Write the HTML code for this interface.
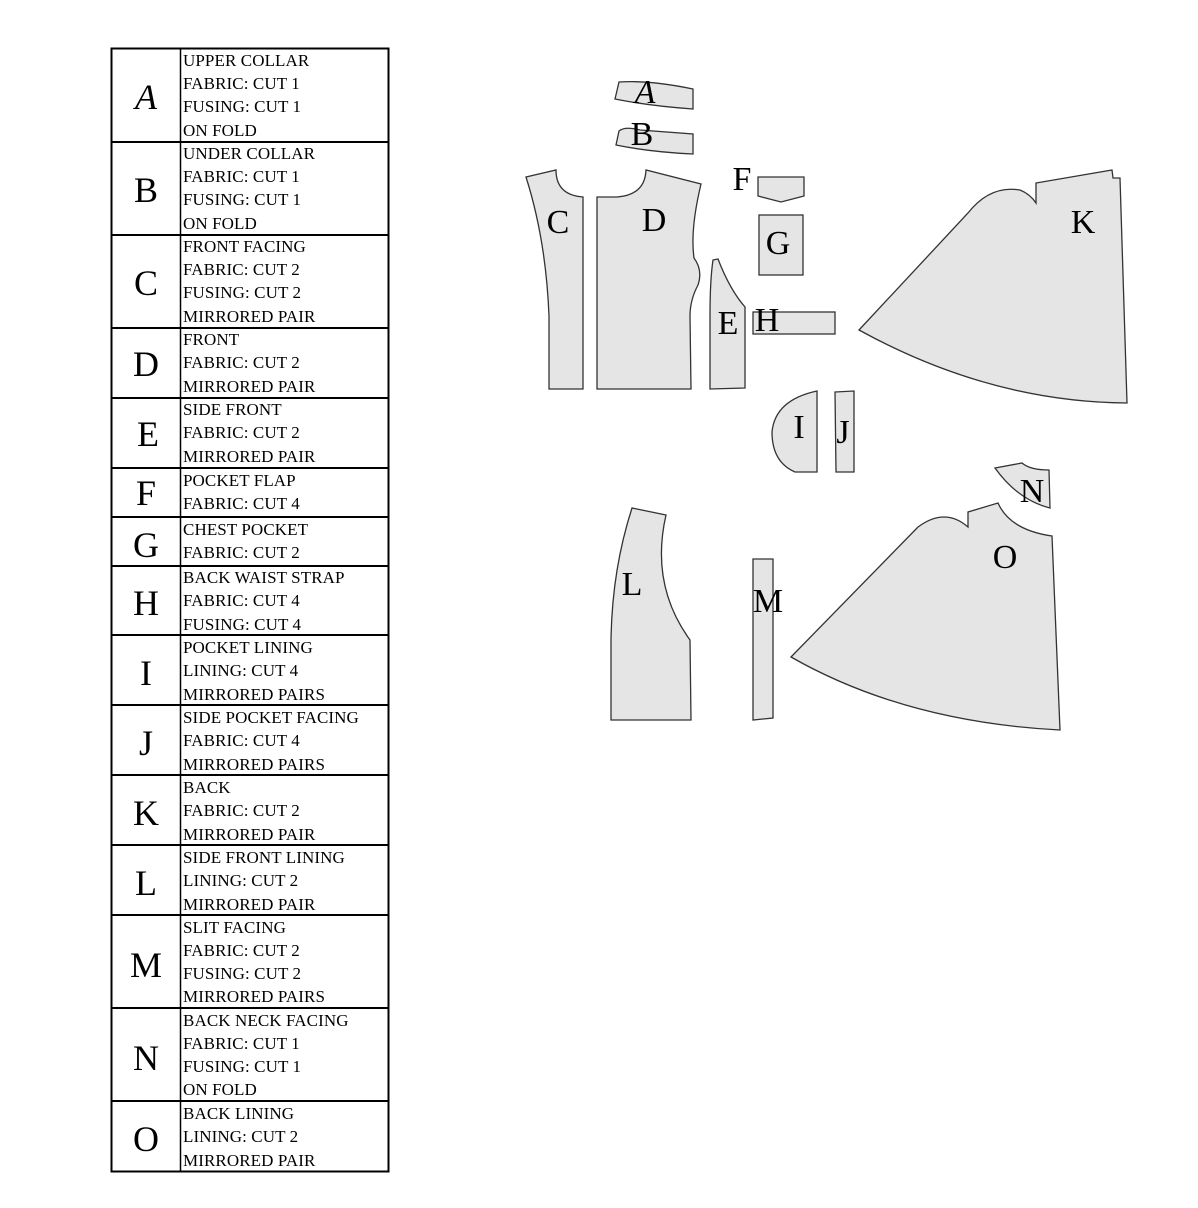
<!DOCTYPE html>
<html><head><meta charset="utf-8"><style>
html,body{margin:0;padding:0;background:#fff;}
svg{display:block;}
.t{font-family:"Liberation Serif",serif;font-size:17px;letter-spacing:0.1px;fill:#000;}
.L{font-family:"Liberation Serif",serif;font-size:36px;fill:#000;text-anchor:middle;}
.p{fill:#e5e5e5;stroke:#333;stroke-width:1.3;}
</style></head><body>
<svg width="1198" height="1208" viewBox="0 0 1198 1208" xmlns="http://www.w3.org/2000/svg">
<rect x="111.5" y="48.5" width="277" height="1123" fill="none" stroke="#000" stroke-width="2"/>
<line x1="180.5" y1="48" x2="180.5" y2="1172" stroke="#000" stroke-width="1.5"/>
<g stroke="#000" stroke-width="2">
<line x1="111" y1="142" x2="389" y2="142"/><line x1="111" y1="235" x2="389" y2="235"/>
<line x1="111" y1="328" x2="389" y2="328"/><line x1="111" y1="398" x2="389" y2="398"/>
<line x1="111" y1="468" x2="389" y2="468"/><line x1="111" y1="517" x2="389" y2="517"/>
<line x1="111" y1="566" x2="389" y2="566"/><line x1="111" y1="635" x2="389" y2="635"/>
<line x1="111" y1="705" x2="389" y2="705"/><line x1="111" y1="775" x2="389" y2="775"/>
<line x1="111" y1="845" x2="389" y2="845"/><line x1="111" y1="915" x2="389" y2="915"/>
<line x1="111" y1="1008" x2="389" y2="1008"/><line x1="111" y1="1101" x2="389" y2="1101"/>
</g>
<g class="t">
<text x="183" y="66">UPPER COLLAR</text><text x="183" y="89">FABRIC: CUT 1</text><text x="183" y="112">FUSING: CUT 1</text><text x="183" y="136">ON FOLD</text>
<text x="183" y="159">UNDER COLLAR</text><text x="183" y="182">FABRIC: CUT 1</text><text x="183" y="205">FUSING: CUT 1</text><text x="183" y="229">ON FOLD</text>
<text x="183" y="252">FRONT FACING</text><text x="183" y="275">FABRIC: CUT 2</text><text x="183" y="298">FUSING: CUT 2</text><text x="183" y="322">MIRRORED PAIR</text>
<text x="183" y="345">FRONT</text><text x="183" y="368">FABRIC: CUT 2</text><text x="183" y="392">MIRRORED PAIR</text>
<text x="183" y="415">SIDE FRONT</text><text x="183" y="438">FABRIC: CUT 2</text><text x="183" y="462">MIRRORED PAIR</text>
<text x="183" y="486">POCKET FLAP</text><text x="183" y="509">FABRIC: CUT 4</text>
<text x="183" y="535">CHEST POCKET</text><text x="183" y="558">FABRIC: CUT 2</text>
<text x="183" y="583">BACK WAIST STRAP</text><text x="183" y="606">FABRIC: CUT 4</text><text x="183" y="630">FUSING: CUT 4</text>
<text x="183" y="653">POCKET LINING</text><text x="183" y="676">LINING: CUT 4</text><text x="183" y="700">MIRRORED PAIRS</text>
<text x="183" y="723">SIDE POCKET FACING</text><text x="183" y="746">FABRIC: CUT 4</text><text x="183" y="770">MIRRORED PAIRS</text>
<text x="183" y="793">BACK</text><text x="183" y="816">FABRIC: CUT 2</text><text x="183" y="840">MIRRORED PAIR</text>
<text x="183" y="863">SIDE FRONT LINING</text><text x="183" y="886">LINING: CUT 2</text><text x="183" y="910">MIRRORED PAIR</text>
<text x="183" y="933">SLIT FACING</text><text x="183" y="956">FABRIC: CUT 2</text><text x="183" y="979">FUSING: CUT 2</text><text x="183" y="1002">MIRRORED PAIRS</text>
<text x="183" y="1026">BACK NECK FACING</text><text x="183" y="1049">FABRIC: CUT 1</text><text x="183" y="1072">FUSING: CUT 1</text><text x="183" y="1095">ON FOLD</text>
<text x="183" y="1119">BACK LINING</text><text x="183" y="1142">LINING: CUT 2</text><text x="183" y="1166">MIRRORED PAIR</text>
</g>
<g class="L">
<text x="146" y="109" font-style="italic">A</text><text x="146" y="202">B</text><text x="146" y="295">C</text>
<text x="146" y="376">D</text><text x="148" y="446">E</text><text x="146" y="505">F</text>
<text x="146" y="557">G</text><text x="146" y="615">H</text><text x="146" y="685">I</text>
<text x="146" y="755">J</text><text x="146" y="825">K</text><text x="146" y="895">L</text>
<text x="146" y="977">M</text><text x="146" y="1070">N</text><text x="146" y="1151">O</text>
</g>
<g>
<path class="p" d="M615,99 L619,82 Q650,80 693,89 L693,109 Q650,106 615,99 Z"/>
<path class="p" d="M616,145 L619,131 Q625,126 640,130 L693,134 L693,154 Q650,152 616,145 Z"/>
<path class="p" d="M526,177 L556,170 Q556,195 583,197 L583,389 L549,389 L549,316 Q546,240 526,177 Z"/>
<path class="p" d="M597,197 L617,197 Q645,195 646,170 L701,184 Q690,230 694,258 Q703,270 698,285 Q690,300 690,316 L691,389 L597,389 Z"/>
<path class="p" d="M710,389 L710,316 Q710,280 713,260 L718,259 Q730,290 745,307 L745,388 Z"/>
<path class="p" d="M758,177 L804,177 L804,196 L781,202 L758,196 Z"/>
<rect class="p" x="759" y="215" width="44" height="60"/>
<rect class="p" x="753" y="312" width="82" height="22"/>
<path class="p" d="M817,391 L817,472 L795,472 Q772,462 772,432 Q775,400 817,391 Z"/>
<path class="p" d="M835,392 L854,391 L854,472 L836,472 Z"/>
<path class="p" d="M859,330 L968,213 Q990,185 1020,190 Q1030,194 1036,203 L1036,183 L1112,170 L1113,178 L1120,178 L1127,403 Q990,402 859,330 Z"/>
<path class="p" d="M995,468 L1022,463 Q1030,470 1049,470 L1050,508 Q1018,500 995,468 Z"/>
<path class="p" d="M791,657 L918,527 Q945,507 968,527 L968,512 L998,503 Q1010,530 1052,536 L1060,730 Q905,722 791,657 Z"/>
<path class="p" d="M611,720 L611,640 Q612,570 632,508 L666,515 Q650,585 690,640 L691,720 Z"/>
<path class="p" d="M753,559 L773,559 L773,718 L753,720 Z"/>
</g>
<g class="L" style="font-size:34px">
<text x="645" y="103" font-style="italic">A</text><text x="642" y="145">B</text>
<text x="558" y="233">C</text><text x="654" y="231">D</text>
<text x="742" y="190">F</text><text x="778" y="254">G</text>
<text x="767" y="331">H</text><text x="728" y="334">E</text>
<text x="799" y="438">I</text><text x="843" y="443">J</text>
<text x="1083" y="233">K</text><text x="1032" y="502">N</text>
<text x="1005" y="568">O</text><text x="632" y="595">L</text>
<text x="768" y="612">M</text>
</g>
</svg>
</body></html>
